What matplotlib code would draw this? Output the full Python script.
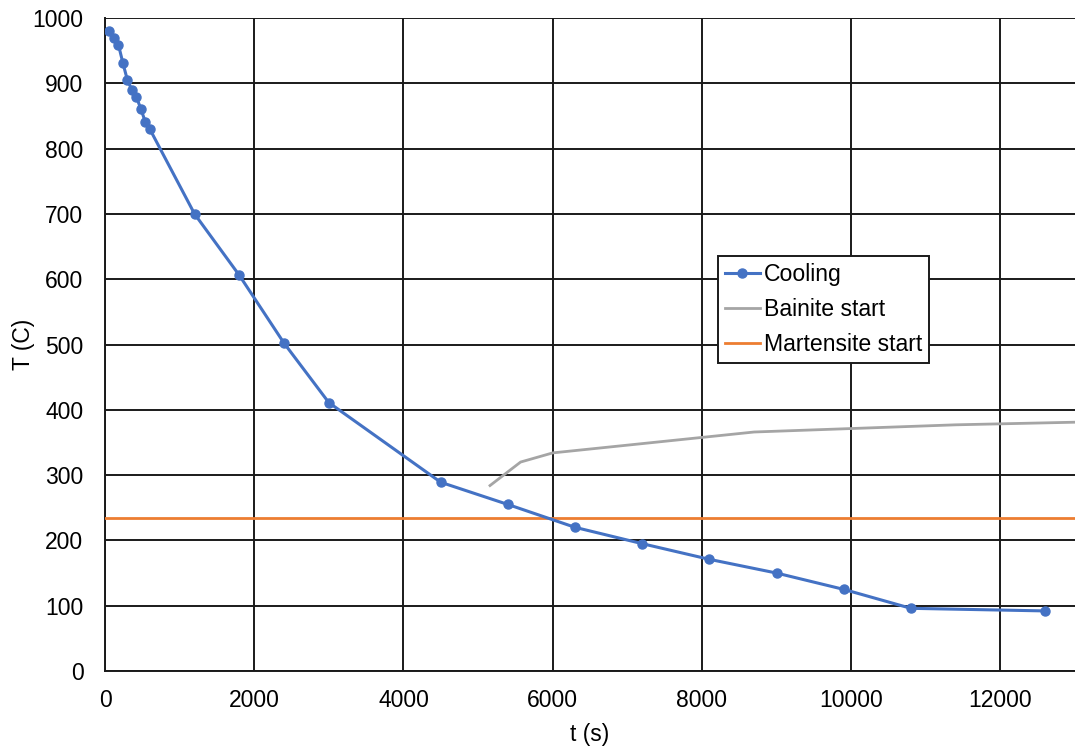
import matplotlib
matplotlib.use("Agg")
import matplotlib.pyplot as plt

plt.rcParams['font.family'] = ['Liberation Sans', 'DejaVu Sans']

cool_t = [60, 120, 180, 240, 300, 360, 420, 480, 540, 600, 1200, 1800, 2400, 3000,
          4500, 5400, 6300, 7200, 8100, 9000, 9900, 10800, 12600]
cool_T = [980, 970, 959, 931, 905, 890, 879, 861, 841, 830, 700, 606, 502, 411,
          289, 255, 220, 195, 171, 150, 125, 96, 92]

bain_t = [5160, 5570, 6000, 8700, 11400, 13000]
bain_T = [284, 320, 334, 366, 377, 381]

ms_t = [0, 13000]
ms_T = [235, 235]

xticks = [0, 2000, 4000, 6000, 8000, 10000, 12000]
yticks = [0, 100, 200, 300, 400, 500, 600, 700, 800, 900, 1000]

fig = plt.figure(figsize=(10.75, 7.47), dpi=100)
ax = fig.add_axes([105/1075, 1-671/747, (1075-105)/1075, (671-18)/747])

ax.plot(cool_t, cool_T, color='#4472C4', lw=2.2, marker='o', ms=6.5, label='Cooling', zorder=4)
ax.plot(bain_t, bain_T, color='#A5A5A5', lw=2.0, label='Bainite start', zorder=3)
ax.plot(ms_t, ms_T, color='#ED7D31', lw=2.0, label='Martensite start', zorder=3)

ax.set_xlim(0, 13000)
ax.set_ylim(0, 1000)
ax.set_xticks(xticks)
ax.set_yticks(yticks)
ax.grid(True, color='#1a1a1a', lw=1.4)
ax.set_axisbelow(True)
for s in ['top', 'right']:
    ax.spines[s].set_visible(False)
for s in ['left', 'bottom']:
    ax.spines[s].set_color('#1a1a1a')
    ax.spines[s].set_linewidth(1.4)
ax.tick_params(axis='y', length=0, labelsize=16.5, pad=15.5)
ax.tick_params(axis='x', length=0, labelsize=16.5, pad=13)
ax.set_xlabel('t (s)', fontsize=16.5)
ax.set_ylabel('T (C)', fontsize=16.5)
ax.xaxis.set_label_coords(0.5, -(723 - 671) / 653)
ax.yaxis.set_label_coords((35 - 105) / 970, 0.5)

leg = ax.legend(loc='upper left', bbox_to_anchor=((718-105)/970, 1-(256-18)/653),
                fontsize=16.6, frameon=True, fancybox=False, edgecolor='#1a1a1a',
                borderpad=0.3, labelspacing=0.53, handlelength=1.5, handletextpad=0.2,
                borderaxespad=0)
leg.get_frame().set_linewidth(1.4)
leg.get_frame().set_alpha(1)

fig.savefig('out.png', dpi=100)
